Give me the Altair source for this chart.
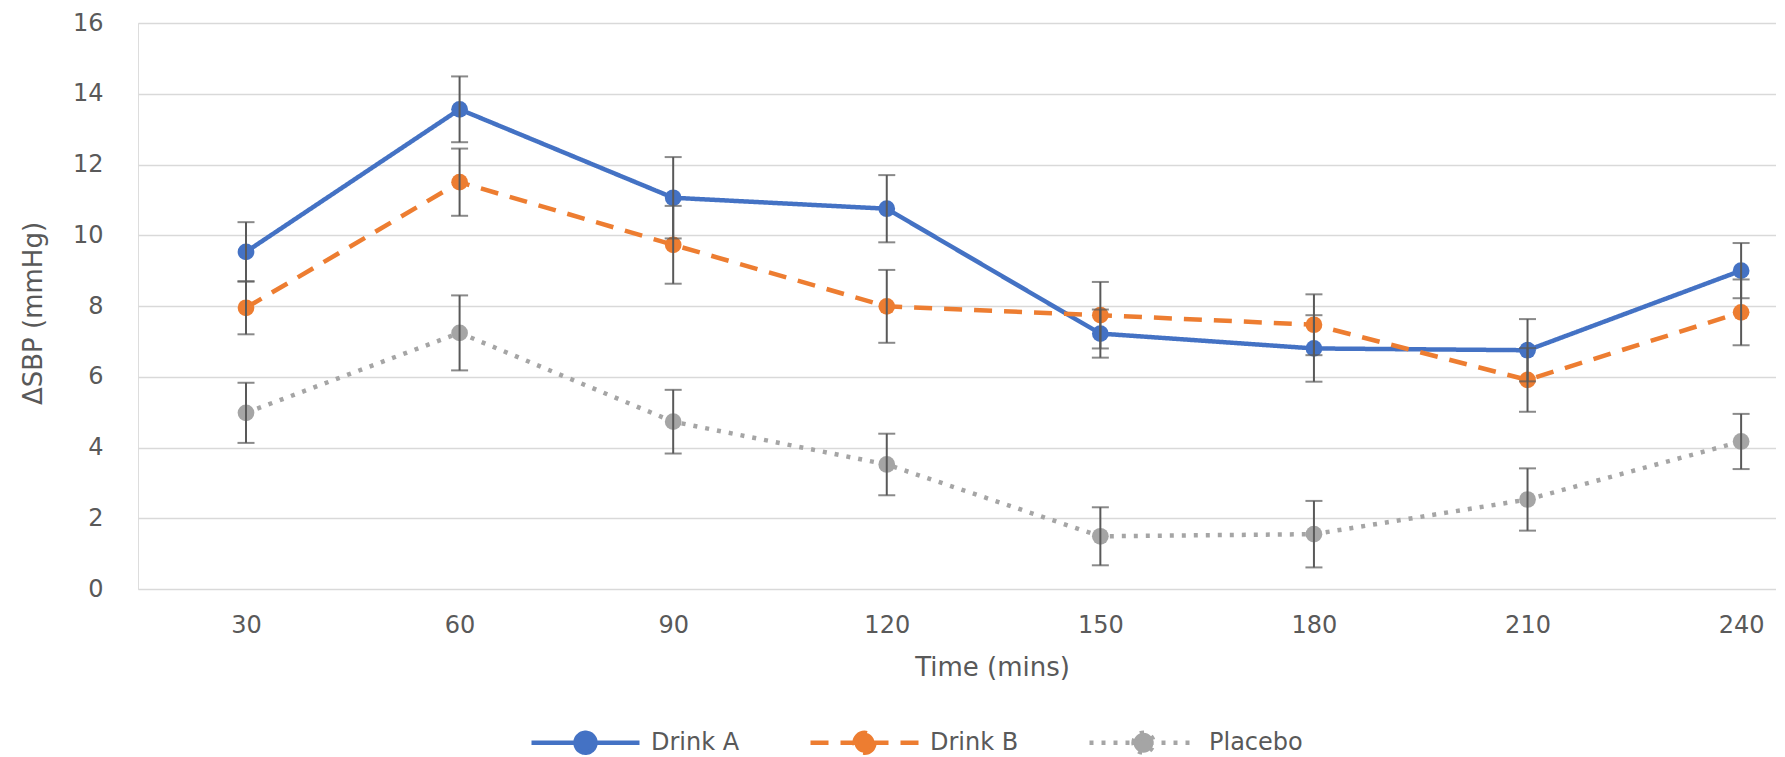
import altair as alt
import pandas as pd

times = [30, 60, 90, 120, 150, 180, 210, 240]
series = ["Drink A", "Drink B", "Placebo"]

drink_a_mean = [9.53, 13.56, 11.06, 10.75, 7.22, 6.80, 6.75, 9.00]
drink_a_err = [0.84, 0.93, 1.15, 0.95, 0.68, 0.94, 0.88, 0.78]
drink_b_mean = [7.95, 11.50, 9.73, 7.99, 7.74, 7.47, 5.91, 7.82]
drink_b_err = [0.75, 0.95, 1.10, 1.03, 0.94, 0.86, 0.90, 0.93]
placebo_mean = [4.98, 7.24, 4.73, 3.52, 1.49, 1.55, 2.53, 4.17]
placebo_err = [0.85, 1.06, 0.90, 0.87, 0.82, 0.94, 0.88, 0.78]

y_ticks = [0, 2, 4, 6, 8, 10, 12, 14, 16]

colors = ["#4472C4", "#ED7D31", "#A5A5A5"]
dashes = [[1, 0], [18, 12], [4, 8]]

rows = []
for name, means, errs in zip(series, [drink_a_mean, drink_b_mean, placebo_mean],
                             [drink_a_err, drink_b_err, placebo_err]):
    for t, m, e in zip(times, means, errs):
        rows.append({"series": name, "time": t, "mean": m, "lo": m - e, "hi": m + e})
df = pd.DataFrame(rows)

FONT = "DejaVu Sans"
TXT = "#595959"

x_enc = alt.X(
    "time:Q",
    scale=alt.Scale(domain=[14.83, 244.9], nice=False, zero=False),
    axis=alt.Axis(
        values=times, title="Time (mins)", grid=False, domain=False, ticks=False,
        labelFontSize=24, labelColor=TXT, labelFont=FONT, labelPadding=24,
        titleFontSize=26, titleFontWeight="normal", titleColor=TXT, titleFont=FONT,
        titleX=854, titleY=78, titleBaseline="middle",
    ),
)

y_axis = alt.Axis(
    values=y_ticks, title="ΔSBP (mmHg)", domain=False, ticks=False,
    gridColor="#D9D9D9", gridWidth=1.5,
    labelFontSize=24, labelColor=TXT, labelFont=FONT, labelPadding=35,
    titleFontSize=26, titleFontWeight="normal", titleColor=TXT, titleFont=FONT,
    titleX=-105, titleY=290, titleBaseline="middle", titleAlign="center",
)
y_scale = alt.Scale(domain=[0, 16], nice=False)

legend_path = "M-4.5,0H4.5M-0.83,0A0.83,0.83,0,1,1,0.83,0A0.83,0.83,0,1,1,-0.83,0Z"
legend = alt.Legend(
    title=None, orient="none", legendX=433, legendY=705, direction="horizontal",
    symbolType=legend_path, symbolSize=576, symbolStrokeWidth=4.5,
    labelFontSize=24, labelColor=TXT, labelFont=FONT, labelOffset=51,
    columnPadding=61,
)

color_enc = alt.Color("series:N", scale=alt.Scale(domain=series, range=colors), legend=legend)
dash_enc = alt.StrokeDash("series:N", scale=alt.Scale(domain=series, range=dashes), legend=legend)

base = alt.Chart(df)

lines = base.mark_line(strokeWidth=4.5).encode(
    x=x_enc,
    y=alt.Y("mean:Q", scale=y_scale, axis=y_axis),
    color=color_enc,
    strokeDash=dash_enc,
)

points = base.mark_circle(size=280, opacity=1).encode(
    x="time:Q",
    y=alt.Y("mean:Q", scale=y_scale, axis=y_axis),
    color=color_enc,
)

err_rules = base.mark_rule(color="#595959", strokeWidth=2).encode(
    x="time:Q",
    y=alt.Y("lo:Q", scale=y_scale, axis=y_axis),
    y2="hi:Q",
)

cap_lo = base.mark_tick(color="#595959", orient="horizontal", size=17, thickness=2).encode(
    x="time:Q",
    y=alt.Y("lo:Q", scale=y_scale, axis=y_axis),
)
cap_hi = base.mark_tick(color="#595959", orient="horizontal", size=17, thickness=2).encode(
    x="time:Q",
    y=alt.Y("hi:Q", scale=y_scale, axis=y_axis),
)

chart = alt.layer(lines, points, err_rules, cap_lo, cap_hi).properties(
    width=1638, height=566,
    padding={"left": 12, "top": 3, "right": 0, "bottom": -3},
).configure_view(stroke=None).configure(background="white")

chart.save("out.html", embed_options={"renderer": "svg", "actions": False})
